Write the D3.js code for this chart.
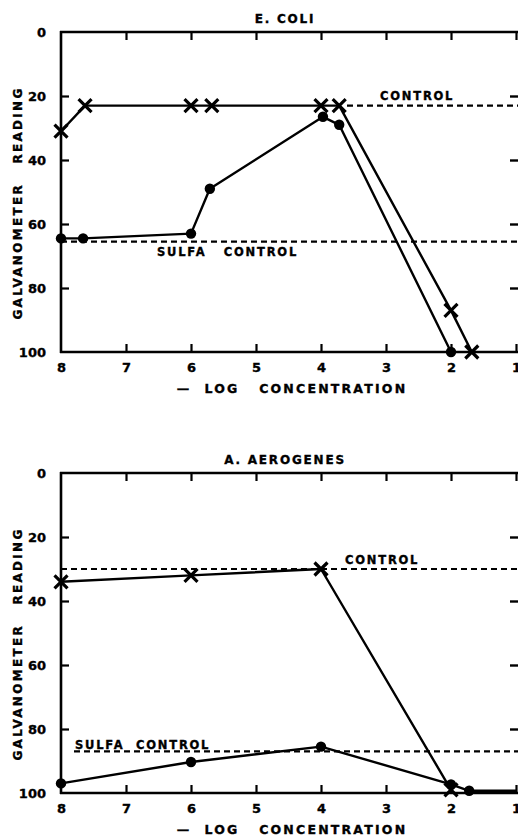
<!DOCTYPE html>
<html><head><meta charset="utf-8">
<script src="https://cdn.jsdelivr.net/npm/d3@7"></script>
<style>
html,body{margin:0;padding:0;background:#fff;}
svg{display:block;}
text{font-family:"DejaVu Sans",sans-serif;font-weight:bold;fill:#000;stroke:#000;stroke-width:0.35px;}
</style></head>
<body>
<svg id="c" width="518" height="838"></svg>
<script>
// ---- data ----
const xTicks = [8, 7, 6, 5, 4, 3, 2, 1];
const yTicks = [0, 20, 40, 60, 80, 100];

// E. coli
const ecoliCrossX = [8, 7.63, 6, 5.68, 4, 3.72, 2, 1.68];
const ecoliCrossY = [31, 23, 23, 23, 23, 23, 87, 100];
const ecoliDotX = [8, 7.66, 6, 5.71, 3.97, 3.72, 2];
const ecoliDotY = [64.5, 64.5, 63, 49, 26.5, 29, 100];
const ecoliControl = 23;
const ecoliControlFrom = 3.6;
const ecoliSulfa = 65.5;
const ecoliSulfaFrom = 8;

// A. aerogenes
const aeroCrossX = [8, 6, 4, 2];
const aeroCrossY = [34, 32, 30, 99];
const aeroDotX = [8, 6, 4, 2, 1.72, 1];
const aeroDotY = [97, 90.3, 85.5, 97.3, 99.3, 99.3];
const aeroDotMarked = [true, true, true, true, true, false];
const aeroControl = 30;
const aeroControlFrom = 8;
const aeroSulfa = 87;
const aeroSulfaFrom = 7.8;

const svg = d3.select("#c");

function panel(cfg) {
  const top = cfg.top, bottom = cfg.top + 320;
  const x = d3.scaleLinear().domain([8, 1]).range([61, 516]);
  const y = d3.scaleLinear().domain([0, 100]).range([top, bottom]);
  const g = svg.append("g");

  // title
  g.append("text").attr("x", 285).attr("y", top - 9).attr("text-anchor", "middle")
    .attr("font-size", 12).attr("letter-spacing", 1.8).text(cfg.title);

  // frame lines
  g.append("line").attr("x1", 60).attr("x2", 520).attr("y1", top).attr("y2", top)
    .attr("stroke", "#000").attr("stroke-width", 2.4);
  g.append("line").attr("x1", 60).attr("x2", 520).attr("y1", bottom).attr("y2", bottom)
    .attr("stroke", "#000").attr("stroke-width", 2.6);
  g.append("line").attr("x1", 61).attr("x2", 61).attr("y1", top - 1).attr("y2", bottom + 1)
    .attr("stroke", "#000").attr("stroke-width", 2.6);

  // bottom axis (ticks inward)
  const xb = g.append("g").attr("transform", `translate(0,${bottom})`)
    .call(d3.axisBottom(x).tickValues(xTicks).tickSize(-8).tickPadding(11).tickFormat(d3.format("d")));
  xb.select(".domain").remove();
  xb.selectAll(".tick line").attr("stroke-width", 2.2).filter(d => d === 8).remove();
  xb.selectAll(".tick text").attr("font-size", 13).attr("font-family", "DejaVu Sans").attr("font-weight", "bold")
    .attr("stroke", "#000").attr("stroke-width", 0.4);

  // top axis ticks
  const xt = g.append("g").attr("transform", `translate(0,${top})`)
    .call(d3.axisTop(x).tickValues(xTicks.filter(d => d !== 8)).tickSize(-8).tickFormat(""));
  xt.select(".domain").remove();
  xt.selectAll(".tick line").attr("stroke-width", 2.2);

  // left axis
  const yl = g.append("g").attr("transform", `translate(61,0)`)
    .call(d3.axisLeft(y).tickValues(yTicks).tickSize(-8).tickPadding(15));
  yl.select(".domain").remove();
  yl.selectAll(".tick line").attr("stroke-width", 2.2).filter(d => d === 0 || d === 100).remove();
  yl.selectAll(".tick text").attr("font-size", 13).attr("font-family", "DejaVu Sans").attr("font-weight", "bold")
    .attr("stroke", "#000").attr("stroke-width", 0.4);

  // right axis ticks
  const yr = g.append("g").attr("transform", `translate(519,0)`)
    .call(d3.axisRight(y).tickValues(yTicks.filter(d => d !== 0 && d !== 100)).tickSize(-9).tickFormat(""));
  yr.select(".domain").remove();
  yr.selectAll(".tick line").attr("stroke-width", 2.4);

  // axis titles
  g.append("text").attr("transform", `translate(22,${top + 171}) rotate(-90)`)
    .attr("text-anchor", "middle").attr("font-size", 12).attr("letter-spacing", 2.3)
    .attr("xml:space", "preserve").text("GALVANOMETER   READING");
  g.append("text").attr("x", 292).attr("y", bottom + 41).attr("text-anchor", "middle")
    .attr("font-size", 12.5).attr("letter-spacing", 2.2).attr("xml:space", "preserve")
    .text("—  LOG   CONCENTRATION");

  // reference dashed lines
  const dash = (from, val) => g.append("line")
    .attr("x1", x(from)).attr("x2", 520).attr("y1", y(val)).attr("y2", y(val))
    .attr("stroke", "#000").attr("stroke-width", 2.2).attr("stroke-dasharray", "6,4");
  dash(cfg.controlFrom, cfg.control);
  dash(cfg.sulfaFrom, cfg.sulfa);

  // labels for control lines
  g.append("text").attr("x", cfg.controlLbl[0]).attr("y", cfg.controlLbl[1])
    .attr("font-size", 11.5).attr("letter-spacing", 1.8).text("CONTROL");
  g.append("text").attr("x", cfg.sulfaLbl[0]).attr("y", cfg.sulfaLbl[1])
    .attr("font-size", 11.5).attr("letter-spacing", 1.8).attr("xml:space", "preserve")
    .text(cfg.sulfaText);

  const line = d3.line().x(d => x(d[0])).y(d => y(d[1]));
  const crosses = cfg.crossX.map((v, i) => [v, cfg.crossY[i]]);
  const dots = cfg.dotX.map((v, i) => [v, cfg.dotY[i]]);

  g.append("path").datum(crosses).attr("d", line).attr("fill", "none")
    .attr("stroke", "#000").attr("stroke-width", 2.4).attr("stroke-linejoin", "round");
  g.append("path").datum(dots).attr("d", line).attr("fill", "none")
    .attr("stroke", "#000").attr("stroke-width", 2.4).attr("stroke-linejoin", "round");

  g.selectAll(".dot").data(dots.filter((d, i) => cfg.dotMarked ? cfg.dotMarked[i] : true))
    .enter().append("circle").attr("cx", d => x(d[0])).attr("cy", d => y(d[1]))
    .attr("r", 5.2).attr("fill", "#000");

  const s = 6.5;
  g.selectAll(".cross").data(crosses).enter().append("path")
    .attr("d", d => {
      const cx = x(d[0]), cy = y(d[1]);
      return `M${cx - s},${cy - s}L${cx + s},${cy + s}M${cx - s},${cy + s}L${cx + s},${cy - s}`;
    })
    .attr("stroke", "#000").attr("stroke-width", 3.2).attr("fill", "none");
}

panel({
  title: "E. COLI", top: 32,
  crossX: ecoliCrossX, crossY: ecoliCrossY, dotX: ecoliDotX, dotY: ecoliDotY,
  control: ecoliControl, controlFrom: ecoliControlFrom,
  sulfa: ecoliSulfa, sulfaFrom: ecoliSulfaFrom,
  controlLbl: [380, 100], sulfaLbl: [157, 256], sulfaText: "SULFA   CONTROL"
});
panel({
  title: "A. AEROGENES", top: 473,
  crossX: aeroCrossX, crossY: aeroCrossY, dotX: aeroDotX, dotY: aeroDotY, dotMarked: aeroDotMarked,
  control: aeroControl, controlFrom: aeroControlFrom,
  sulfa: aeroSulfa, sulfaFrom: aeroSulfaFrom,
  controlLbl: [345, 564], sulfaLbl: [75, 749], sulfaText: "SULFA  CONTROL"
});
</script>
</body></html>
